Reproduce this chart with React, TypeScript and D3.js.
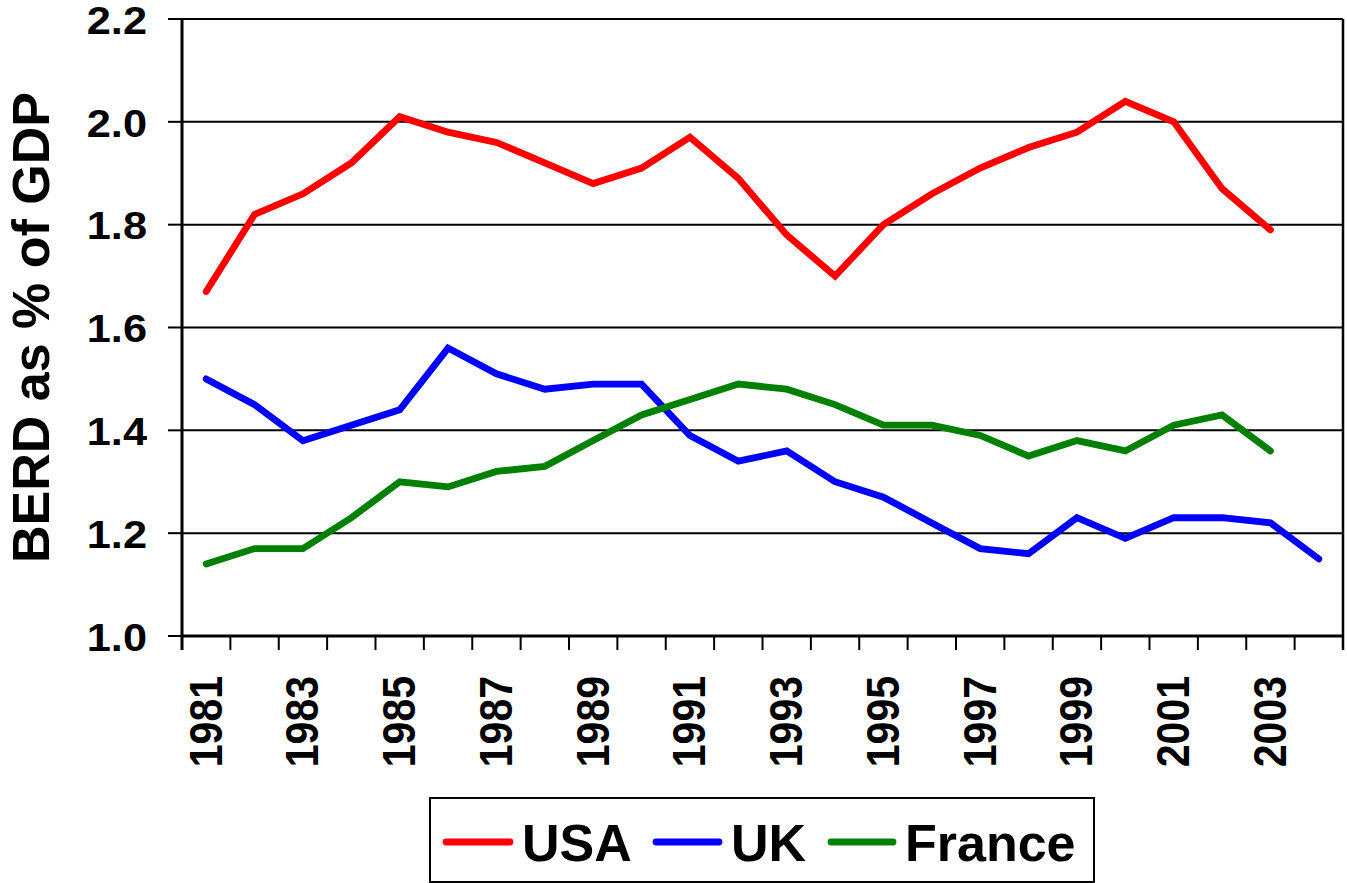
import React from "react";
import * as d3 from "d3";

const years = ["1981","1982","1983","1984","1985","1986","1987","1988","1989","1990","1991","1992","1993","1994","1995","1996","1997","1998","1999","2000","2001","2002","2003","2004"];
const usa = [1.67,1.82,1.86,1.92,2.01,1.98,1.96,1.92,1.88,1.91,1.97,1.89,1.78,1.70,1.80,1.86,1.91,1.95,1.98,2.04,2.00,1.87,1.79,null];
const uk = [1.50,1.45,1.38,1.41,1.44,1.56,1.51,1.48,1.49,1.49,1.39,1.34,1.36,1.30,1.27,1.22,1.17,1.16,1.23,1.19,1.23,1.23,1.22,1.15];
const france = [1.14,1.17,1.17,1.23,1.30,1.29,1.32,1.33,1.38,1.43,1.46,1.49,1.48,1.45,1.41,1.41,1.39,1.35,1.38,1.36,1.41,1.43,1.36,null];
const yTicks = [1.0,1.2,1.4,1.6,1.8,2.0,2.2];
const seriesNames = ["USA","UK","France"];
const seriesColors = ["#ff0000","#0000ff","#008000"];
const yTitle = "BERD as % of GDP";

const W = 1347, H = 883;
const FONT = "'Liberation Sans', Arial, Helvetica, sans-serif";

export default function App() {
  const x = d3.scaleBand<string>().domain(years).range([182, 1343]).padding(0);
  const y = d3.scaleLinear().domain([1.0, 2.2]).range([636, 19]);
  const series = [usa, uk, france];
  const line = d3.line<number | null>()
    .defined((d) => d !== null)
    .x((_, i) => (x(years[i]) as number) + x.bandwidth() / 2)
    .y((d) => y(d as number));
  const boundaries = years.map((yr) => x(yr) as number).concat([x.range()[1]]);

  const legendItems = [
    { lx1: 446, lx2: 510, tx: 522 },
    { lx1: 656, lx2: 719, tx: 731 },
    { lx1: 831, lx2: 893, tx: 905 },
  ];

  return (
    <svg width={W} height={H} style={{ position: "absolute", left: 0, top: 0, background: "#fff" }} fontFamily={FONT}>
      <rect x={0} y={0} width={W} height={H} fill="#fff" />
      {/* gridlines */}
      {yTicks.map((t) => (
        <line key={"g" + t} x1={182} x2={1343} y1={y(t)} y2={y(t)} stroke="#000" strokeWidth={2} />
      ))}
      {/* right border */}
      <line x1={1343} x2={1343} y1={y(2.2)} y2={y(1.0) + 14} stroke="#000" strokeWidth={2.5} />
      {/* y axis */}
      <line x1={182} x2={182} y1={y(2.2)} y2={y(1.0) + 14} stroke="#000" strokeWidth={3} />
      {yTicks.map((t) => (
        <line key={"yt" + t} x1={168} x2={182} y1={y(t)} y2={y(t)} stroke="#000" strokeWidth={2} />
      ))}
      {yTicks.map((t) => (
        <g key={"yl" + t} transform={`translate(147,${y(t) + 1}) scale(1.14,1)`}>
          <text x={0} y={0} dy="0.36em" textAnchor="end" fontSize={38} fontWeight="bold" fill="#000">
            {t.toFixed(1)}
          </text>
        </g>
      ))}
      {/* x axis */}
      <line x1={182} x2={1343} y1={y(1.0)} y2={y(1.0)} stroke="#000" strokeWidth={3} />
      {boundaries.map((b, i) => (
        <line key={"xt" + i} x1={b} x2={b} y1={y(1.0)} y2={y(1.0) + 14} stroke="#000" strokeWidth={2} />
      ))}
      {years.map((yr, i) =>
        i % 2 === 0 ? (
          <g key={"xl" + yr} transform={`translate(${(x(yr) as number) + x.bandwidth() / 2 - 1},676) scale(1.12,1) rotate(-90)`}>
            <text x={0} y={0} dy="0.36em" textAnchor="end" fontSize={41} fontWeight="bold" fill="#000">
              {yr}
            </text>
          </g>
        ) : null
      )}
      {/* y title */}
      <text transform={`translate(30,${(y(1.0) + y(2.2)) / 2}) rotate(-90)`} dy="0.36em" textAnchor="middle" fontSize={52} fontWeight="bold" fill="#000">
        {yTitle}
      </text>
      {/* series */}
      {series.map((s, k) => (
        <path key={"s" + k} d={line(s) || ""} fill="none" stroke={seriesColors[k]} strokeWidth={6.8} strokeLinecap="round" strokeLinejoin="miter" />
      ))}
      {/* legend */}
      <rect x={430} y={798} width={664} height={84} fill="#fff" stroke="#000" strokeWidth={2} />
      {seriesNames.map((n, k) => (
        <g key={"lg" + n}>
          <line x1={legendItems[k].lx1} x2={legendItems[k].lx2} y1={842} y2={842} stroke={seriesColors[k]} strokeWidth={6.8} strokeLinecap="round" />
          <text x={legendItems[k].tx} y={842} dy="0.36em" fontSize={52} fontWeight="bold" fill="#000">
            {n}
          </text>
        </g>
      ))}
    </svg>
  );
}
